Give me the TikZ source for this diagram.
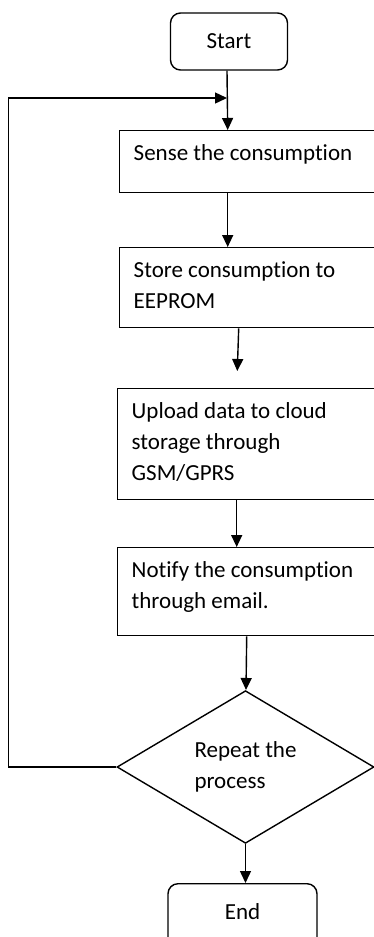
\documentclass[tikz,border=0pt]{standalone}
\usepackage{fontspec}
\setmainfont[Ligatures=NoCommon]{Carlito}
\usetikzlibrary{shapes.geometric,arrows.meta}
% box text, top aligned
\newcommand{\boxtext}[2]{\parbox[c][#1][t]{240pt}{\raggedright\rule{0pt}{30pt}#2}}
\begin{document}
\begin{tikzpicture}[x=1pt,y=-1pt,line width=1.4pt,
        every node/.style={font=\fontsize{23}{31}\selectfont},
        term/.style={draw,rounded corners=10pt,inner sep=0pt},
        proc/.style={draw,anchor=north west,inner xsep=14pt,inner ysep=0pt},
        decide/.style={draw,diamond,minimum width=257pt,minimum height=130pt,inner sep=0pt,align=left},
        flow/.style={-{Triangle[length=12pt,width=11pt]}}]
        \useasboundingbox (0,0) rectangle (374,937);
        \clip (0,0) rectangle (374,937);
        \node[term,minimum width=117pt,minimum height=57pt] (start) at (229,41.5) {Start};
        \node[proc] (sense) at (119,130) {\boxtext{62pt}{Sense the consumption}};
        \node[proc] (store) at (119,247) {\boxtext{80pt}{Store consumption to\\EEPROM}};
        \node[proc] (upload) at (117,388) {\boxtext{111pt}{Upload data to cloud\\storage through\\GSM/GPRS}};
        \node[proc] (notify) at (117,547) {\boxtext{88pt}{Notify the consumption\\through email.}};
        \node[decide] (repeat) at (245.5,767) {Repeat the\\process};
        \node[term,minimum width=149pt,minimum height=70pt,anchor=north,text depth=14pt] (end) at (242.5,883) {End};
        \coordinate (loop) at (227,98);
        \draw[flow] ([xshift=-2pt]start.south) -- ([xshift=-26pt]sense.north);
        \draw[flow] ([xshift=-26pt]sense.south) -- ([xshift=-26pt]store.north);
        \draw[flow,shorten >=17pt] ([xshift=-15pt]store.south) -- ([xshift=-15pt]upload.north);
        \draw[flow] ([xshift=-15pt]upload.south) -- ([xshift=-15pt]notify.north);
        \draw[flow] ([xshift=-5pt]notify.south) -- ([xshift=0.5pt]repeat.north);
        \draw[flow] (repeat.south) -- (repeat.south |- end.north);
        \draw[flow] (repeat.west) -- ++(-108,0) |- (loop);
\end{tikzpicture}
\end{document}
